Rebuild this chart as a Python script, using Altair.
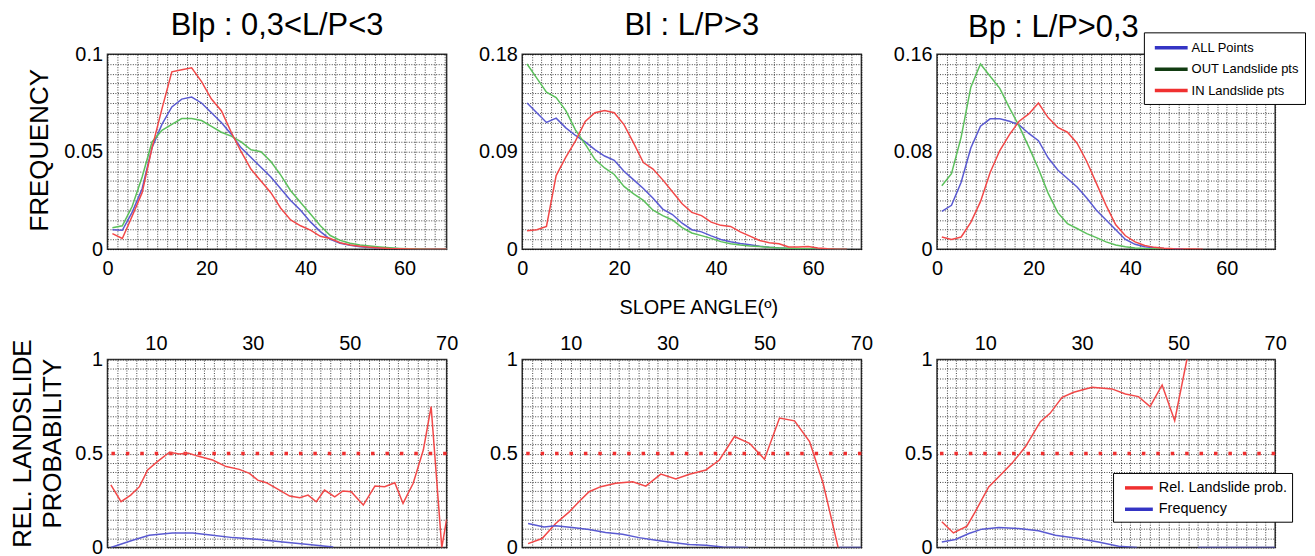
import altair as alt
import pandas as pd

FONT = "Liberation Sans"

# slope-angle bins (degrees) for the frequency curves
XS = list(range(1, 71, 2))

# ---- top row: frequency of slope angle ----
BLP_ALL = [0.010, 0.0097, 0.019, 0.031, 0.052, 0.064, 0.073, 0.077, 0.078, 0.075, 0.070, 0.065,
           0.059, 0.052, 0.047, 0.042, 0.037, 0.031, 0.025, 0.020, 0.014, 0.009, 0.005, 0.003,
           0.002, 0.0013, 0.0008, 0.0005, 0.0003, 0.0002, 0.0001, 0, 0, 0, 0]
BLP_OUT = [0.011, 0.012, 0.022, 0.037, 0.055, 0.061, 0.064, 0.067, 0.067, 0.066, 0.063, 0.060,
           0.058, 0.055, 0.051, 0.050, 0.045, 0.038, 0.030, 0.024, 0.018, 0.012, 0.007, 0.0045,
           0.003, 0.0022, 0.0016, 0.0011, 0.0007, 0.0004, 0.0002, 0.0001, 0, 0, 0]
BLP_IN = [0.008, 0.0055, 0.017, 0.029, 0.052, 0.072, 0.091, 0.092, 0.093, 0.086, 0.077, 0.071,
          0.060, 0.050, 0.041, 0.035, 0.029, 0.021, 0.015, 0.012, 0.0098, 0.0066, 0.0055, 0.0033,
          0.0022, 0.0015, 0.001, 0.0006, 0.0003, 0.0002, 0.0001, 0, 0, 0, 0]

BL_ALL = [0.135, 0.126, 0.117, 0.121, 0.112, 0.105, 0.099, 0.092, 0.086, 0.082, 0.072, 0.064,
          0.056, 0.047, 0.037, 0.032, 0.024, 0.018, 0.016, 0.0123, 0.009, 0.0068, 0.0052, 0.004,
          0.0028, 0.0019, 0.0012, 0.0007, 0.0004, 0.0003, 0.0001, 0, 0, 0]
BL_OUT = [0.171, 0.158, 0.145, 0.140, 0.128, 0.110, 0.097, 0.083, 0.075, 0.069, 0.058, 0.051,
          0.045, 0.036, 0.031, 0.027, 0.020, 0.015, 0.0125, 0.010, 0.007, 0.005, 0.0038, 0.003,
          0.0024, 0.0017, 0.0012, 0.0008, 0.0005, 0.0003, 0.0002, 0.0001, 0, 0]
BL_IN = [0.017, 0.018, 0.021, 0.068, 0.085, 0.100, 0.118, 0.126, 0.128, 0.126, 0.115, 0.098,
         0.080, 0.074, 0.064, 0.053, 0.042, 0.034, 0.031, 0.025, 0.022, 0.021, 0.016, 0.012,
         0.008, 0.006, 0.005, 0.002, 0.002, 0.0025, 0.001, 0.0003, 0, 0]

BP_ALL = [0.031, 0.036, 0.055, 0.083, 0.101, 0.107, 0.107, 0.105, 0.102, 0.095, 0.089, 0.075,
          0.065, 0.058, 0.051, 0.042, 0.032, 0.024, 0.016, 0.008, 0.004, 0.002, 0.0012, 0.0006,
          0.0003, 0.0001]
BP_OUT = [0.052, 0.062, 0.092, 0.133, 0.152, 0.142, 0.132, 0.116, 0.101, 0.084, 0.066, 0.046,
          0.030, 0.021, 0.017, 0.0128, 0.0095, 0.006, 0.0035, 0.002, 0.001, 0.0005, 0.0003, 0.0001]
BP_IN = [0.010, 0.008, 0.010, 0.022, 0.039, 0.063, 0.081, 0.094, 0.105, 0.111, 0.120, 0.108,
         0.100, 0.096, 0.087, 0.072, 0.054, 0.036, 0.020, 0.011, 0.006, 0.003, 0.0015, 0.0008,
         0.0004, 0.0002, 0.0001, 0]

# ---- bottom row: relative landslide probability ----
BLP_PROB_X = [0.7, 2.8, 4.8, 6.6, 8.3, 10.3, 12.8, 14.8, 16.6, 19, 21.7, 24.5, 27.2, 29.3, 31,
              32.8, 35.5, 37.6, 39.7, 41.4, 43.1, 44.8, 46.9, 48.6, 50.3, 52.8, 55.2, 57.2, 59.3,
              61, 63.1, 65.2, 66.8, 69, 70]
BLP_PROB_Y = [0.333, 0.244, 0.279, 0.324, 0.413, 0.457, 0.507, 0.498, 0.503, 0.484, 0.466, 0.431,
              0.416, 0.395, 0.359, 0.345, 0.306, 0.274, 0.265, 0.279, 0.244, 0.306, 0.270, 0.301,
              0.297, 0.226, 0.327, 0.324, 0.345, 0.235, 0.342, 0.520, 0.75, 0.0, 0.15]
BLP_FREQ_X = [0.7, 5.2, 8.6, 13.4, 17.6, 21.7, 25.9, 31.4, 36.2, 41, 46.6]
BLP_FREQ_Y = [0.0, 0.039, 0.066, 0.078, 0.078, 0.066, 0.053, 0.043, 0.030, 0.018, 0.0036]

BL_PROB_X = [1.2, 4.1, 6.9, 9.7, 11.7, 13.8, 16.2, 19.3, 22.8, 25.5, 28.6, 31.7, 34.5, 37.9, 40.7,
             43.8, 46.9, 50, 53.1, 56.2, 59.3, 62.1, 65.2]
BL_PROB_Y = [0.021, 0.048, 0.128, 0.19, 0.244, 0.297, 0.324, 0.342, 0.35, 0.327, 0.391, 0.365,
             0.39, 0.413, 0.466, 0.591, 0.555, 0.47, 0.689, 0.674, 0.564, 0.342, 0.0]
BL_FREQ_X = [1.2, 4.5, 6.9, 10.3, 13.8, 17.2, 20.7, 24.1, 27.6, 31, 34.5, 37.9, 41.4, 46.6]
BL_FREQ_Y = [0.128, 0.11, 0.116, 0.107, 0.096, 0.08, 0.071, 0.053, 0.039, 0.027, 0.016, 0.012,
             0.0036, 0.0]
BL_FREQ_TAIL_X = [65.5, 70]

BP_PROB_X = [1, 3.4, 6.2, 7.9, 10.7, 13.1, 15.5, 18.3, 21.4, 23.4, 25.9, 28.3, 32.1, 36.2, 39,
             41.7, 44.1, 46.6, 49.2, 52.5]
BP_PROB_Y = [0.137, 0.078, 0.114, 0.19, 0.323, 0.385, 0.448, 0.536, 0.67, 0.714, 0.799, 0.826,
             0.853, 0.844, 0.817, 0.803, 0.75, 0.865, 0.675, 1.1]
BP_FREQ_X = [1, 3.8, 6.6, 9.3, 12.8, 16.9, 21, 24.5, 29.3, 33.4, 37.6, 41.4]
BP_FREQ_Y = [0.03, 0.043, 0.075, 0.098, 0.107, 0.101, 0.089, 0.066, 0.048, 0.030, 0.007, 0.0]
BP_FREQ_TAIL_X = [54, 70]

TITLES = ["Blp : 0,3<L/P<3", "Bl : L/P>3", "Bp : L/P>0,3"]
SERIES_TOP = ["ALL Points", "OUT Landslide pts", "IN Landslide pts"]
SERIES_BOT = ["Rel. Landslide prob.", "Frequency"]
ALL_SERIES = SERIES_TOP + SERIES_BOT
LINE_COLORS = ["#5a5ad2", "#5cc05c", "#f24848", "#f24848", "#5a5ad2"]
LEGEND_TOP_COLORS = ["#3434c4", "#123c12", "#f03030"]
LEGEND_BOT_COLORS = ["#f03030", "#3434c4"]
RED = "#f03030"


def top_df(a, o, i):
    rows = []
    for name, vals in zip(SERIES_TOP, [a, o, i]):
        for x, y in zip(XS, vals):
            rows.append({"series": name, "seg": name, "x": x, "y": y})
    return pd.DataFrame(rows)


def bot_df(px, py, fx, fy, tail=None):
    rows = [{"series": SERIES_BOT[0], "seg": "p", "x": x, "y": y} for x, y in zip(px, py)]
    rows += [{"series": SERIES_BOT[1], "seg": "f", "x": x, "y": y} for x, y in zip(fx, fy)]
    if tail:
        rows += [{"series": SERIES_BOT[1], "seg": "t", "x": x, "y": 0.0} for x in tail]
    return pd.DataFrame(rows)


def panel(df, xmax, xorient, xlabels, ymax, ystep, ylabels, w, h, title=None, title_dx=0,
          title_dy=0, ytitle=None, ytitle_x=0, ytitle_y=0, xtitle=None, legend=None,
          legend_colors=None, domain_series=None, rule=False):
    xgrid = list(range(0, int(xmax) + 1, 2))
    n = int(round(ymax / ystep))
    ygrid = [round(k * ystep, 4) for k in range(n + 1)]
    xaxis_kw = dict(values=xgrid, orient=xorient, format="~g", labelFlush=False,
                    labelExpr=f"indexof({xlabels}, datum.value) >= 0 ? datum.label : ''",
                    labelPadding=9 if xorient == "bottom" else 6)
    if xtitle:
        xaxis_kw.update(title=xtitle, titleX=177, titleY=65, titleBaseline="alphabetic",
                        titleAlign="center", titleFontSize=20)
    yaxis_kw = dict(values=ygrid, format="~g",
                    labelExpr=f"indexof({ylabels}, datum.value) >= 0 ? datum.label : ''",
                    labelPadding=5)
    if ytitle:
        yaxis_kw.update(title=ytitle, titleX=ytitle_x, titleY=ytitle_y, titleFontSize=26,
                        titleBaseline="middle", titleAlign="center", titleLineHeight=30)
    X = alt.X("x:Q", scale=alt.Scale(domain=[0, xmax], nice=False, zero=False),
              axis=alt.Axis(**xaxis_kw), title=xtitle if xtitle else None)
    Y = alt.Y("y:Q", scale=alt.Scale(domain=[0, ymax], nice=False),
              axis=alt.Axis(**yaxis_kw), title=ytitle if ytitle else None)
    layers = []
    if rule:
        layers.append(alt.Chart(pd.DataFrame({"y": [0.5]})).mark_rule(
            color=RED, strokeDash=[3.5, 11], strokeWidth=3.5).encode(y=Y))
    layers.append(alt.Chart(df).mark_line(strokeWidth=1.5, clip=True).encode(
        x=X, y=Y,
        stroke=alt.Stroke("series:N", scale=alt.Scale(domain=ALL_SERIES, range=LINE_COLORS),
                          legend=None),
        detail="seg:N"))
    if legend is not None:
        layers.append(alt.Chart(df).mark_line(opacity=0, clip=True).encode(
            x=X, y=Y,
            color=alt.Color("series:N", scale=alt.Scale(domain=domain_series, range=legend_colors),
                            legend=legend)))
    ch = alt.layer(*layers).properties(width=w, height=h)
    if title:
        ch = ch.properties(title=alt.TitleParams(title, dx=title_dx, dy=title_dy, frame="group"))
    return ch


legend_top = alt.Legend(title=None, orient="none", legendX=208, legendY=-22, labelFontSize=13,
                        labelFont=FONT, symbolType="M-2.2,0H2.2", symbolSize=225,
                        symbolStrokeWidth=3.5, symbolOpacity=1, symbolOffset=12, rowPadding=4.5,
                        padding=6, labelOffset=11, strokeColor="black", fillColor="white")
legend_bot = alt.Legend(title=None, orient="none", legendX=177, legendY=114, labelFontSize=14.5,
                        labelFont=FONT, symbolType="M-1.75,0H1.75", symbolSize=256,
                        symbolStrokeWidth=3.5, symbolOpacity=1, symbolOffset=11, rowPadding=4.5,
                        padding=5, labelOffset=10, strokeColor="black", fillColor="white")

p1 = panel(top_df(BLP_ALL, BLP_OUT, BLP_IN), 68.5, "bottom", [0, 20, 40, 60], 0.1, 0.005,
           [0, 0.05, 0.1], 341, 196, title=TITLES[0], title_dy=15, ytitle="FREQUENCY",
           ytitle_x=-68, ytitle_y=96)
p2 = panel(top_df(BL_ALL, BL_OUT, BL_IN), 70, "bottom", [0, 20, 40, 60], 0.18, 0.009,
           [0, 0.09, 0.18], 341, 196, title=TITLES[1], title_dy=15, xtitle="SLOPE ANGLE(º)")
p3 = panel(top_df(BP_ALL, BP_OUT, BP_IN), 70, "bottom", [0, 20, 40, 60], 0.16, 0.008,
           [0, 0.08, 0.16], 340, 196, title=TITLES[2], title_dx=-53, title_dy=29,
           legend=legend_top, legend_colors=LEGEND_TOP_COLORS, domain_series=SERIES_TOP)
q1 = panel(bot_df(BLP_PROB_X, BLP_PROB_Y, BLP_FREQ_X, BLP_FREQ_Y), 70, "top", [10, 30, 50, 70],
           1.0, 0.05, [0, 0.5, 1], 341, 189, ytitle=["REL. LANDSLIDE", "PROBABILITY"],
           ytitle_x=-85, ytitle_y=84, rule=True)
q2 = panel(bot_df(BL_PROB_X, BL_PROB_Y, BL_FREQ_X, BL_FREQ_Y, BL_FREQ_TAIL_X), 70, "top",
           [10, 30, 50, 70], 1.0, 0.05, [0, 0.5, 1], 341, 189, rule=True)
q3 = panel(bot_df(BP_PROB_X, BP_PROB_Y, BP_FREQ_X, BP_FREQ_Y, BP_FREQ_TAIL_X), 70, "top",
           [10, 30, 50, 70], 1.0, 0.05, [0, 0.5, 1], 340, 189, rule=True, legend=legend_bot,
           legend_colors=LEGEND_BOT_COLORS, domain_series=SERIES_BOT)

chart = alt.concat(p1, p2, p3, q1, q2, q3, columns=3, spacing={"row": 111, "column": 76},
                   bounds="flush", align="all")
chart = chart.resolve_scale(color="independent").resolve_legend(color="independent")
chart = chart.properties(padding={"left": 1, "top": 0, "right": 0, "bottom": 0})
chart = chart.configure(font=FONT).configure_view(stroke="#333333", strokeWidth=1.5) \
    .configure_axis(labelFont=FONT, labelFontSize=20, labelColor="black", titleFont=FONT,
                    titleFontWeight="normal", titleColor="black", grid=True, gridColor="#000000",
                    gridDash=[1, 1.5], gridOpacity=0.75, gridWidth=1, domain=False, ticks=False) \
    .configure_title(font=FONT, fontSize=31, fontWeight="normal", color="black",
                     baseline="alphabetic", offset=17, anchor="middle")

chart.save("out.html", embed_options={"renderer": "svg", "actions": False})
